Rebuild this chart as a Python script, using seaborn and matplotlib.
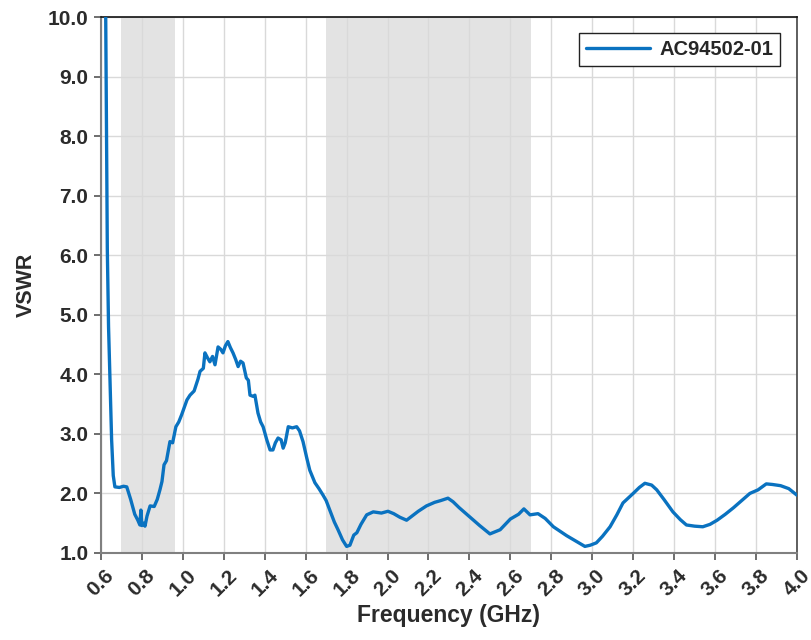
import matplotlib
matplotlib.use("Agg")
import numpy as np
import pandas as pd
import matplotlib.pyplot as plt
import seaborn as sns

# valores (GHz, VSWR)
freq = [0.618, 0.623, 0.631, 0.637, 0.644, 0.652, 0.660, 0.668, 0.690, 0.710, 0.726,
        0.745, 0.765, 0.780, 0.790, 0.795, 0.800, 0.808, 0.815, 0.825, 0.840, 0.860,
        0.875, 0.888, 0.898, 0.908, 0.920, 0.937, 0.950, 0.966, 0.980, 0.994, 1.020,
        1.035, 1.055, 1.074, 1.084, 1.100, 1.108, 1.120, 1.132, 1.145, 1.157, 1.172,
        1.185, 1.196, 1.208, 1.220, 1.232, 1.245, 1.258, 1.270, 1.282, 1.294, 1.310,
        1.320, 1.328, 1.343, 1.352, 1.367, 1.380, 1.392, 1.410, 1.426, 1.440, 1.452,
        1.465, 1.480, 1.490, 1.500, 1.515, 1.535, 1.556, 1.570, 1.587, 1.605, 1.620,
        1.645, 1.665, 1.685, 1.700, 1.718, 1.740, 1.758, 1.780, 1.800, 1.816, 1.835,
        1.850, 1.870, 1.898, 1.930, 1.970, 2.002, 2.030, 2.060, 2.093, 2.120, 2.150,
        2.190, 2.230, 2.260, 2.295, 2.320, 2.350, 2.400, 2.450, 2.500, 2.550, 2.600,
        2.640, 2.666, 2.696, 2.735, 2.770, 2.810, 2.840, 2.875, 2.920, 2.964, 2.990,
        3.020, 3.050, 3.087, 3.120, 3.150, 3.200, 3.230, 3.257, 3.290, 3.315, 3.350,
        3.394, 3.430, 3.460, 3.500, 3.540, 3.575, 3.610, 3.650, 3.690, 3.730, 3.770,
        3.810, 3.850, 3.880, 3.920, 3.960, 4.000]
vswr = [10.60, 10.10, 6.10, 4.80, 3.90, 2.90, 2.30, 2.11, 2.10, 2.12, 2.11,
        1.90, 1.65, 1.55, 1.47, 1.72, 1.46, 1.50, 1.45, 1.62, 1.79, 1.78,
        1.90, 2.06, 2.20, 2.48, 2.55, 2.87, 2.85, 3.12, 3.20, 3.32, 3.57,
        3.65, 3.72, 3.92, 4.05, 4.10, 4.36, 4.28, 4.21, 4.30, 4.16, 4.46,
        4.42, 4.36, 4.48, 4.55, 4.45, 4.36, 4.25, 4.13, 4.22, 4.19, 3.94,
        3.90, 3.65, 3.63, 3.65, 3.35, 3.20, 3.12, 2.90, 2.73, 2.73, 2.85,
        2.93, 2.90, 2.76, 2.85, 3.12, 3.10, 3.12, 3.05, 2.87, 2.60, 2.39,
        2.18, 2.08, 1.97, 1.88, 1.72, 1.52, 1.39, 1.22, 1.11, 1.13, 1.30,
        1.34, 1.48, 1.64, 1.69, 1.67, 1.70, 1.66, 1.60, 1.55, 1.62, 1.70,
        1.79, 1.85, 1.88, 1.92, 1.86, 1.76, 1.61, 1.46, 1.32, 1.39, 1.57,
        1.65, 1.74, 1.64, 1.66, 1.58, 1.44, 1.37, 1.29, 1.20, 1.11, 1.13,
        1.17, 1.28, 1.44, 1.64, 1.84, 2.00, 2.10, 2.17, 2.14, 2.06, 1.90,
        1.69, 1.56, 1.47, 1.45, 1.44, 1.48, 1.55, 1.65, 1.76, 1.88, 2.00,
        2.06, 2.16, 2.15, 2.13, 2.08, 1.97]

bandas = [(0.70, 0.96), (1.70, 2.70)]
serie = "AC94502-01"

df = pd.DataFrame({"Frequency (GHz)": freq, "VSWR": vswr})

sns.set_style("whitegrid")
plt.rcParams['font.family'] = ['Liberation Sans', 'DejaVu Sans']

fig = plt.figure(figsize=(8.11, 6.4), dpi=100)
ax = fig.add_axes([0.1245, 0.136, 0.8582, 0.8374])

for a, b in bandas:
    ax.axvspan(a, b, color='#e3e3e3', lw=0, zorder=0.3)

sns.lineplot(data=df, x="Frequency (GHz)", y="VSWR", color='#0a72c0',
             linewidth=2.4, label=serie, ax=ax, zorder=3)

ax.set_xlim(0.6, 4.0)
ax.set_ylim(1.0, 10.0)
ax.set_xticks(np.round(np.arange(0.6, 4.01, 0.2), 1))
ax.set_yticks(np.arange(1.0, 10.01, 1.0))
ax.set_xticklabels([f"{v:.1f}" for v in np.arange(0.6, 4.01, 0.2)], rotation=45)
ax.set_yticklabels([f"{v:.1f}" for v in np.arange(1.0, 10.01, 1.0)])

ax.grid(True, color='#d9d9d9', linewidth=1)
ax.set_axisbelow(True)

for lab in ax.get_xticklabels() + ax.get_yticklabels():
    lab.set_fontweight('bold')
    lab.set_fontsize(15)
    lab.set_color('#2b2b2b')

ax.tick_params(axis='both', which='major', length=5, width=1.2, color='#555555',
               direction='out', bottom=True, left=True, pad=4)

ax.set_xlabel("Frequency (GHz)", fontsize=16.5, fontweight='bold', color='#2b2b2b', labelpad=3)
ax.set_ylabel("VSWR", fontsize=15.5, fontweight='bold', color='#2b2b2b', labelpad=8)

ax.spines['left'].set_color('#808080')
ax.spines['left'].set_linewidth(1.5)
ax.spines['bottom'].set_color('#808080')
ax.spines['bottom'].set_linewidth(1.5)
ax.spines['top'].set_color('#111111')
ax.spines['top'].set_linewidth(1.2)
ax.spines['right'].set_color('#444444')
ax.spines['right'].set_linewidth(1.2)

leg = ax.legend(loc='upper right', bbox_to_anchor=(0.9756, 0.970), frameon=True,
                fancybox=False, handlelength=3.2, handletextpad=0.45, borderpad=0.35,
                borderaxespad=0, prop={'weight': 'bold', 'size': 14.5})
leg.get_frame().set_edgecolor('#222222')
leg.get_frame().set_linewidth(1.0)
leg.get_frame().set_alpha(1)

fig.savefig("out.png", dpi=100)
